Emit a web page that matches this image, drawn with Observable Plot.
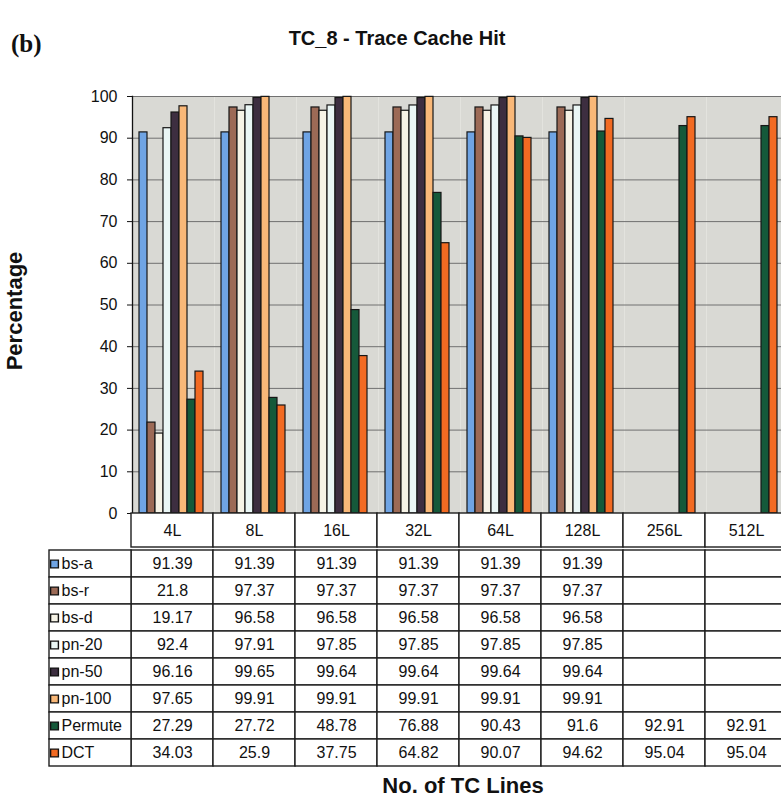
<!DOCTYPE html>
<html>
<head>
<meta charset="utf-8">
<script src="https://cdn.jsdelivr.net/npm/d3@7"></script>
<script src="https://cdn.jsdelivr.net/npm/@observablehq/plot@0.6"></script>
<style>
  html, body { margin: 0; padding: 0; background: #fff; overflow: hidden; }
  #wrap { position: relative; width: 781px; height: 800px; overflow: hidden;
          font-family: "Liberation Sans", Arial, sans-serif; color: #111; }
  #wrap svg { display: block; max-width: none; overflow: visible; background: transparent; }
  #top { position: relative; height: 80px; }
  #tag { position: absolute; left: 11px; top: 30px; font-family: "Liberation Serif", "Times New Roman", serif;
         font-weight: bold; font-size: 25px; }
  #title { position: absolute; left: 397px; top: 27px; transform: translateX(-50%); white-space: nowrap;
           font-weight: bold; font-size: 20px; }
  #ylab { position: absolute; left: 15px; top: 311px; transform: translate(-50%, -50%) rotate(-90deg);
          font-weight: bold; font-size: 22px; white-space: nowrap; }
  #xlab { position: absolute; left: 463px; top: 773px; transform: translateX(-50%);
          font-weight: bold; font-size: 22px; white-space: nowrap; }
</style>
</head>
<body>
<div id="wrap">
  <div id="top"><div id="tag">(b)</div><div id="title">TC_8 - Trace Cache Hit</div></div>
  <div id="charts"></div>
  <div id="ylab">Percentage</div>
  <div id="xlab">No. of TC Lines</div>
</div>
<script>
// ---- data ----
const categories = ["4L", "8L", "16L", "32L", "64L", "128L", "256L", "512L"];
const seriesNames = ["bs-a", "bs-r", "bs-d", "pn-20", "pn-50", "pn-100", "Permute", "DCT"];
const bsA     = [91.39, 91.39, 91.39, 91.39, 91.39, 91.39, null, null];
const bsR     = [21.8, 97.37, 97.37, 97.37, 97.37, 97.37, null, null];
const bsD     = [19.17, 96.58, 96.58, 96.58, 96.58, 96.58, null, null];
const pn20    = [92.4, 97.91, 97.85, 97.85, 97.85, 97.85, null, null];
const pn50    = [96.16, 99.65, 99.64, 99.64, 99.64, 99.64, null, null];
const pn100   = [97.65, 99.91, 99.91, 99.91, 99.91, 99.91, null, null];
const permute = [27.29, 27.72, 48.78, 76.88, 90.43, 91.6, 92.91, 92.91];
const dct     = [34.03, 25.9, 37.75, 64.82, 90.07, 94.62, 95.04, 95.04];
const yTicks  = [0, 10, 20, 30, 40, 50, 60, 70, 80, 90, 100];
const seriesColors = ["#6fa4e4", "#9c6a56", "#f6f3e6", "#eaf6f5", "#3d2e40", "#f9b878", "#15593a", "#f26a22"];

const seriesValues = [bsA, bsR, bsD, pn20, pn50, pn100, permute, dct];
const rows = [];
seriesNames.forEach((s, si) => seriesValues[si].forEach((v, ci) =>
  rows.push({cat: categories[ci], series: s, value: v})));

const font = '"Liberation Sans", Arial, sans-serif';
const baseStyle = {fontFamily: font, fontSize: "15px", color: "#111", background: "transparent", overflow: "visible"};
const W = 796, ML = 129, MR = 6, TL = 46;
const lineColor = "#1e1e1e";

// ---- main bar chart ----
const main = Plot.plot({
  width: W, height: 433, marginTop: 16, marginBottom: 0, marginLeft: ML, marginRight: MR,
  style: baseStyle,
  fx: {domain: categories, paddingInner: 0, paddingOuter: 0, axis: null, label: null},
  x: {domain: seriesNames, paddingInner: 0.04, paddingOuter: 0.6, align: 0.36, axis: null},
  y: {domain: [0, 100], axis: null},
  color: {domain: seriesNames, range: seriesColors},
  marks: [
    Plot.frame({fill: "#d9d9d4", stroke: null}),
    Plot.gridY(yTicks, {stroke: "#707070", strokeOpacity: 1, strokeWidth: 1}),
    Plot.barY(rows.filter(d => d.value != null), {
      fx: "cat", x: "series", y: "value", fill: "series", stroke: "#161616", strokeWidth: 1.2
    }),
    Plot.axisY(yTicks, {tickSize: 5, tickPadding: 10, label: null, fontSize: 16, stroke: "#111"}),
    Plot.frame({anchor: "left", facetAnchor: "left", stroke: "#111", strokeWidth: 1.3})
  ]
});

// ---- header row of the data table ----
const header = Plot.plot({
  width: W, height: 34, marginTop: 0, marginBottom: 0, marginLeft: TL, marginRight: MR,
  style: baseStyle,
  x: {domain: ["", ...categories], padding: 0, axis: null},
  y: {domain: ["h"], padding: 0, axis: null},
  marks: [
    Plot.cell(categories, {x: d => d, y: () => "h", fill: "white", stroke: lineColor, strokeWidth: 1.4}),
    Plot.text(categories, {x: d => d, y: () => "h", text: d => d, fontSize: 16, fill: "#111"})
  ]
});

// ---- data table body ----
const labelCells = seriesNames.map(s => ({cat: "", series: s}));
const table = Plot.plot({
  width: W, height: 221, marginTop: 0, marginBottom: 0, marginLeft: TL, marginRight: MR,
  style: baseStyle,
  x: {domain: ["", ...categories], padding: 0, axis: null},
  y: {domain: seriesNames, padding: 0, axis: null},
  color: {domain: seriesNames, range: seriesColors},
  marks: [
    Plot.cell(rows, {x: "cat", y: "series", fill: "white", stroke: lineColor, strokeWidth: 1.4}),
    Plot.cell(labelCells, {x: "cat", y: "series", fill: "white", stroke: lineColor, strokeWidth: 1.4}),
    Plot.text(rows.filter(d => d.value != null), {
      x: "cat", y: "series", text: d => String(d.value), fontSize: 16, fill: "#111"
    }),
    Plot.dot(labelCells, {x: "cat", y: "series", symbol: "square", r: 4.4, fill: "series",
      stroke: "#111", strokeWidth: 1.4, dx: -36}),
    Plot.text(labelCells, {x: "cat", y: "series", text: "series", textAnchor: "start",
      dx: -29, fontSize: 16, fill: "#111"})
  ]
});

const host = document.getElementById("charts");
host.append(main, header, table);
</script>
</body>
</html>
